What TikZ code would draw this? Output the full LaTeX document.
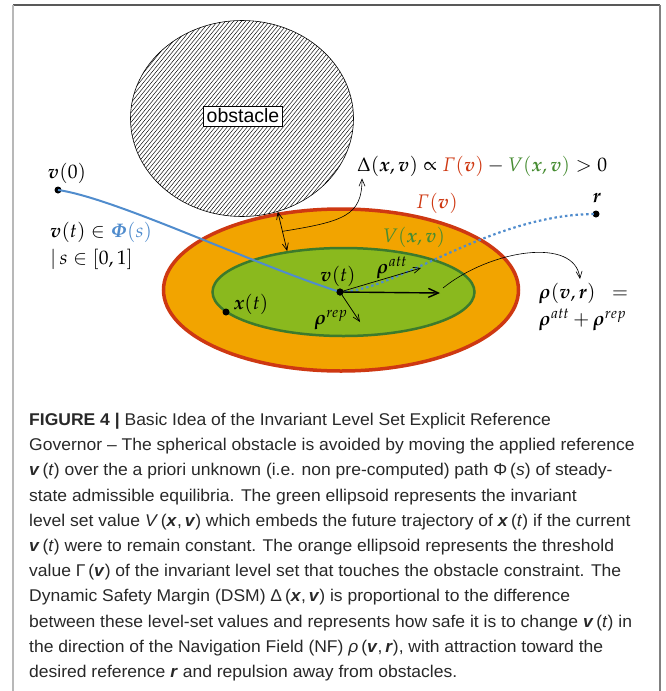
\documentclass[tikz,border=0pt]{standalone}
\usepackage{amsmath,amssymb}
\usepackage{mathpazo}
\usepackage[no-math]{fontspec}
\newfontfamily\capfont[FakeStretch=1.03]{Liberation Sans}
\newfontfamily\boxfont{Liberation Sans}
\usepackage{tikz}
\usetikzlibrary{arrows.meta,positioning,calc,shapes.geometric}
\usepackage{xcolor}
\definecolor{orangefill}{RGB}{242,164,0}
\definecolor{redline}{RGB}{206,56,18}
\definecolor{greenfill}{RGB}{138,185,30}
\definecolor{greenline}{RGB}{60,122,44}
\definecolor{greentext}{RGB}{70,140,50}
\definecolor{pathblue}{RGB}{80,140,205}
\definecolor{capgray}{RGB}{40,40,40}
\newcommand{\capbf}[1]{\textbf{\textit{#1}}}

\begin{document}
\begin{tikzpicture}[x=1pt,y=-1pt,
   >={Straight Barb[length=7pt,width=6pt]},
   dot/.style={circle,fill=black,minimum size=7pt,inner sep=0pt},
   lbl/.style={font=\fontsize{19.6}{27}\selectfont,inner sep=1pt},
   obstacle/.style={ellipse,draw,line width=0.6pt,minimum width=223pt,minimum height=196pt,inner sep=0pt,
      path picture={\foreach \k in {-170,-166,...,230}
         \draw[line width=0.45pt] ([xshift=\k pt,yshift=-2pt]path picture bounding box.south west) -- ++(200pt,245pt);}},
   threshold/.style={ellipse,draw=redline,fill=orangefill,line width=3.5pt,minimum width=355pt,minimum height=162pt},
   levelset/.style={ellipse,draw=greenline,fill=greenfill,line width=2.5pt,minimum width=262pt,minimum height=88pt},
   refpath/.style={pathblue,line width=2pt},
   future/.style={pathblue,line width=2.2pt,dash pattern=on 2.5pt off 2.8pt},
   vec/.style={->,line width=0.7pt},
   caption/.style={anchor=north west,align=left,inner sep=0pt,text=capgray,font=\capfont\fontsize{17}{25.2}\selectfont}]
  \useasboundingbox (0,0) rectangle (665,691);
  % frame
  \draw[black!65,line width=1.6pt] (13,5) -- (660,5);
  \draw[black!28,line width=2pt] (13,5) -- (13,691);
  \draw[black!50,line width=1.2pt] (660,5) -- (660,691);
  % obstacle
  \node[obstacle] (obs) at (242,118.5) {};
  \node[draw,fill=white,line width=0.6pt,font=\boxfont\fontsize{19.5}{23}\selectfont,inner sep=3pt] (obslbl) at (243,116) {obstacle};
  % level sets
  \node[threshold] (gamma) at (341,290) {};
  \node[levelset] (level) at (343.5,292) {};
  % points
  \node[dot] (v0) at (58,190) {};
  \node[dot] (vt) at (340,292) {};
  \node[dot] (xt) at (226,312) {};
  \node[dot] (r) at (596,214) {};
  % reference path
  \draw[refpath] (v0.center) .. controls (115,198) and (255,265) .. (vt.center);
  \draw[future] (vt.center) .. controls (400,290) and (490,214) .. (r.center);
  \node[dot] at (vt) {};
  % navigation field
  \coordinate (atttip) at (421,268);
  \coordinate (rhotip) at (440,293);
  \coordinate (reptip) at (360,322);
  \draw[vec] (vt.center) -- (atttip);
  \draw[line width=1.4pt,-{Straight Barb[length=10pt,width=9pt]}] (vt.center) -- (rhotip);
  \draw[vec] (vt.center) -- (reptip);
  % safety margin
  \draw[<->,line width=0.7pt] (obs.-69) -- (level.144);
  \coordinate (gap) at ($(obs.-69)!0.5!(level.144)$);
  % labels
  \node[lbl] (v0lbl) at (67,173) {$\boldsymbol{v}(0)$};
  \node[lbl,align=left,anchor=west] (philbl) at (49,246) {$\boldsymbol{v}(t)\in{\color{pathblue}\boldsymbol{\varPhi}(s)}$\\$|\,s\in[0,1]$};
  \node[lbl,anchor=west] (delta) at (356,166) {$\Delta(\boldsymbol{x},\boldsymbol{v})\propto{\color{redline}\varGamma(\boldsymbol{v})}-{\color{greentext}V(\boldsymbol{x},\boldsymbol{v})}>0$};
  \node[lbl,text=redline] (gammalbl) at (437,203) {$\varGamma(\boldsymbol{v})$};
  \node[lbl,text=greentext] (levellbl) at (414,237) {$V(\boldsymbol{x},\boldsymbol{v})$};
  \node[lbl] (rlbl) at (597,198) {$\boldsymbol{r}$};
  \node[lbl] (vtlbl) at (338,276) {$\boldsymbol{v}(t)$};
  \node[lbl] (xtlbl) at (251,304) {$\boldsymbol{x}(t)$};
  \node[lbl] (attlbl) at (392,268) {$\boldsymbol{\rho}^{att}$};
  \node[lbl] (replbl) at (331,320) {$\boldsymbol{\rho}^{rep}$};
  \node[lbl,align=left,anchor=north west] (rho) at (538,282) {$\boldsymbol{\rho}(\boldsymbol{v},\boldsymbol{r})\;\;=$\\$\boldsymbol{\rho}^{att}+\boldsymbol{\rho}^{rep}$};
  % pointers
  \coordinate (dsm) at ([xshift=6pt,yshift=-1pt]delta.south west);
  \draw[->,line width=0.6pt] (gap) .. controls +(62,-10) and +(0,37) .. (dsm);
  \coordinate (nfstart) at ([xshift=3pt,yshift=5pt]rhotip);
  \coordinate (nfend) at ([xshift=42pt,yshift=3pt]rho.north west);
  \draw[->,line width=0.6pt] (nfstart) .. controls +(47,-38) and +(-5,-43) .. (nfend);
  % caption
  \node[caption] (cap) at (29,413) {\textbf{FIGURE 4 |} Basic Idea of the Invariant Level Set Explicit Reference\\
    Governor – The spherical obstacle is avoided by moving the applied reference\\
    \capbf{v}\,(\textit{t}) over the a priori unknown (i.e. non pre-computed) path Φ\,(\textit{s}) of steady-\\
    state admissible equilibria. The green ellipsoid represents the invariant\\
    level set value \textit{V}\,(\capbf{x},\,\capbf{v}) which embeds the future trajectory of \capbf{x}\,(\textit{t}) if the current\\
    \capbf{v}\,(\textit{t}) were to remain constant. The orange ellipsoid represents the threshold\\
    value Γ\,(\capbf{v}) of the invariant level set that touches the obstacle constraint. The\\
    Dynamic Safety Margin (DSM) Δ\,(\capbf{x},\,\capbf{v}) is proportional to the difference\\
    between these level-set values and represents how safe it is to change \capbf{v}\,(\textit{t}) in\\
    the direction of the Navigation Field (NF) \textit{ρ}\,(\capbf{v},\,\capbf{r}), with attraction toward the\\
    desired reference \capbf{r} and repulsion away from obstacles.};
\end{tikzpicture}
\end{document}
